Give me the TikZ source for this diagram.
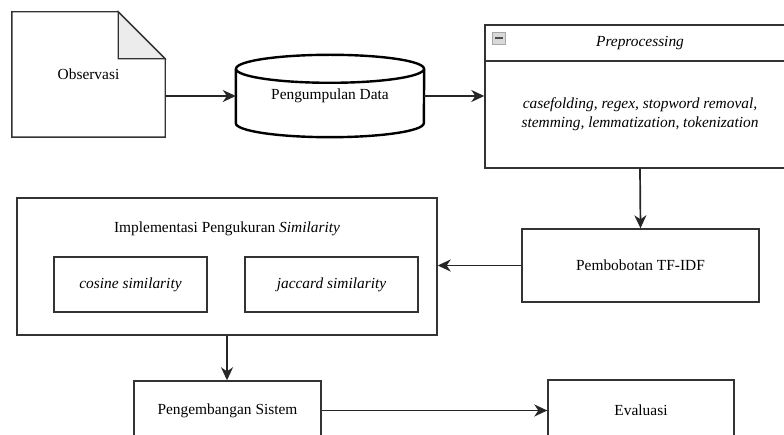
\documentclass[tikz,border=0pt]{standalone}
\usepackage{fontspec}
\setmainfont{Liberation Serif}
\usetikzlibrary{arrows.meta, positioning, calc}

\begin{document}
\begin{tikzpicture}[
  x=1pt, y=-1pt,
  every node/.style={font=\fontsize{15.4}{19}\selectfont, inner sep=0pt, align=center},
  box/.style={draw=black!80, line width=1.4pt, rectangle},
  ghost/.style={rectangle},
  cyl/.style={draw=black, line width=2.4pt, fill=white},
  arr/.style={-{Stealth[length=13pt, width=12pt, inset=4pt]}, line width=1.7pt, draw=black!85}
]
\useasboundingbox (0,0) rectangle (784,435);
\clip (0,0) rectangle (784,435);

% top row
\node[ghost, minimum width=153pt, minimum height=125pt] (obs) at (88.5,74.5) {Observasi};
\node[ghost, minimum width=188pt, minimum height=82pt]  (data) at (330,96) {Pengumpulan Data};
\node[box, minimum width=310pt, minimum height=36pt]  (prephead) at (640,43) {\itshape Preprocessing};
\node[box, minimum width=310pt, minimum height=107pt] (prepbody) at (640,114.5)
  {\itshape casefolding, regex, stopword removal,\\\itshape stemming, lemmatization, tokenization};

% document shape
\draw[line width=1.4pt, draw=black!80, fill=white] (obs.north west) -- ($(obs.north east)+(-47,0)$)
  -- ($(obs.north east)+(0,47)$) -- (obs.south east) -- (obs.south west) -- cycle;
\draw[line width=1.4pt, draw=black!80, fill=gray!15] ($(obs.north east)+(-47,0)$)
  -- ($(obs.north east)+(-47,47)$) -- ($(obs.north east)+(0,47)$) -- cycle;
\node at (obs) {Observasi};

% cylinder
\draw[cyl] ($(data.north west)+(0,14)$) -- ($(data.south west)+(0,-14)$)
  arc[start angle=180, end angle=360, x radius=94pt, y radius=14pt] -- ($(data.north east)+(0,14)$);
\draw[cyl] ($(data.north)+(0,14)$) ellipse[x radius=94pt, y radius=14pt];
\node at (data) {Pengumpulan Data};

% collapse icon
\draw[draw=gray!70, fill=gray!30] ($(prephead.north west)+(8,8)$) rectangle ($(prephead.north west)+(21,20)$);
\draw[line width=1.8pt, black!70] ($(prephead.north west)+(10.5,14)$) -- ($(prephead.north west)+(18.5,14)$);

% middle row
\node[box, minimum width=237pt, minimum height=73pt]  (tfidf) at (640.5,265.5) {Pembobotan TF-IDF};
\node[box, minimum width=420pt, minimum height=137pt] (impl) at (227,266.5) {};
\node (simtitle) at ($(impl.north)+(0,32)$) {Implementasi Pengukuran \textit{Similarity}};
\node[box, minimum width=153pt, minimum height=55pt] (cos) at (130.5,284.5) {\itshape cosine similarity};
\node[box, minimum width=173pt, minimum height=55pt] (jac) at (331.5,284.5) {\itshape jaccard similarity};

% bottom row
\node[box, minimum width=187pt, minimum height=59pt] (dev)  at (227.5,410.5) {Pengembangan Sistem};
\node[box, minimum width=186pt, minimum height=60pt] (eval) at (641,410) {Evaluasi};

\draw[arr] (obs.east |- data.west) -- (data.west);
\draw[arr] (data.east) -- (data.east -| prepbody.west);
\draw[arr] (prepbody.south) -- (tfidf.north);
\draw[arr] (tfidf.west) -- (tfidf.west -| impl.east);
\draw[arr] (impl.south) -- (impl.south |- dev.north);
\draw[arr] (dev.east) -- (dev.east -| eval.west);

\end{tikzpicture}
\end{document}
